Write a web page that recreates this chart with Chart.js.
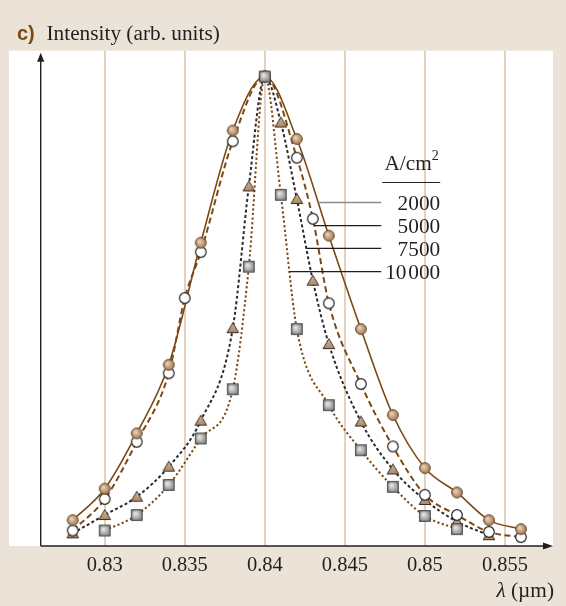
<!DOCTYPE html>
<html>
<head>
<meta charset="utf-8">
<script src="https://cdn.jsdelivr.net/npm/chart.js@4.4.1/dist/chart.umd.min.js"></script>
<style>
  html, body { margin: 0; padding: 0; background: #ECE3D8; }
  #wrap { width: 566px; height: 606px; }
</style>
</head>
<body>
<div id="wrap"><canvas id="chart" width="566" height="606"></canvas></div>
<script>
// Emission spectra at four current densities: wavelength (µm) and normalized intensity
const lambda2000  = [0.828, 0.830, 0.832, 0.834, 0.836, 0.838, 0.840, 0.842, 0.844, 0.846, 0.848, 0.850, 0.852, 0.854, 0.856];
const int2000     = [0.055, 0.122, 0.240, 0.386, 0.646, 0.885, 1.000, 0.867, 0.661, 0.462, 0.279, 0.166, 0.114, 0.055, 0.036];

const lambda5000  = [0.828, 0.830, 0.832, 0.834, 0.835, 0.836, 0.838, 0.840, 0.842, 0.843, 0.844, 0.846, 0.848, 0.850, 0.852, 0.854, 0.856];
const int5000     = [0.033, 0.100, 0.222, 0.368, 0.528, 0.626, 0.862, 1.000, 0.827, 0.697, 0.517, 0.345, 0.212, 0.109, 0.066, 0.030, 0.019];

const lambda7500  = [0.828, 0.830, 0.832, 0.834, 0.836, 0.838, 0.839, 0.840, 0.841, 0.842, 0.843, 0.844, 0.846, 0.848, 0.850, 0.852, 0.854];
const int7500     = [0.027, 0.066, 0.105, 0.169, 0.267, 0.464, 0.766, 1.000, 0.902, 0.739, 0.565, 0.430, 0.265, 0.163, 0.098, 0.052, 0.023];

const lambda10000 = [0.830, 0.832, 0.834, 0.836, 0.838, 0.839, 0.840, 0.841, 0.842, 0.844, 0.846, 0.848, 0.850, 0.852];
const int10000    = [0.033, 0.066, 0.130, 0.229, 0.334, 0.595, 1.000, 0.748, 0.462, 0.300, 0.204, 0.126, 0.064, 0.036];

const tickValues = [0.83, 0.835, 0.84, 0.845, 0.85, 0.855];
const tickLabels = ['0.83', '0.835', '0.84', '0.845', '0.85', '0.855'];
const densityLabels = ['2000', '5000', '7500', '10\u200A000'];

const SERIF = '"Liberation Serif", "Times New Roman", serif';
const INK = '#231F20';
const BROWN = '#7B4A14';

function pairs(xs, ys) { return xs.map((x, i) => ({ x: x, y: ys[i] })); }

// Marker sprites
function sprite(draw) {
  const c = document.createElement('canvas');
  c.width = 16; c.height = 16;
  draw(c.getContext('2d'));
  return c;
}
const dotFilled = sprite(ctx => {
  const g = ctx.createRadialGradient(6.5, 6.5, 0.5, 8, 8, 6);
  g.addColorStop(0, '#EBD3B6'); g.addColorStop(1, '#9A714B');
  ctx.beginPath(); ctx.arc(8, 8, 5.4, 0, Math.PI * 2);
  ctx.fillStyle = g; ctx.fill();
  ctx.lineWidth = 1; ctx.strokeStyle = '#6A4A2C'; ctx.stroke();
});
const dotOpen = sprite(ctx => {
  ctx.beginPath(); ctx.arc(8, 8, 5.3, 0, Math.PI * 2);
  ctx.fillStyle = '#FFFFFF'; ctx.fill();
  ctx.lineWidth = 1.2; ctx.strokeStyle = '#222'; ctx.stroke();
});
const triangle = sprite(ctx => {
  const g = ctx.createLinearGradient(0, 3, 0, 13);
  g.addColorStop(0, '#D6B896'); g.addColorStop(1, '#A9835E');
  ctx.beginPath(); ctx.moveTo(8, 2.5); ctx.lineTo(13.8, 12.5); ctx.lineTo(2.2, 12.5); ctx.closePath();
  ctx.fillStyle = g; ctx.fill();
  ctx.lineWidth = 1; ctx.strokeStyle = '#3A3028'; ctx.stroke();
});
const square = sprite(ctx => {
  const g = ctx.createRadialGradient(6.5, 6.5, 0.5, 8, 8, 7.5);
  g.addColorStop(0, '#E6E6E6'); g.addColorStop(1, '#707070');
  ctx.fillStyle = g; ctx.fillRect(2.7, 2.7, 10.6, 10.6);
  ctx.lineWidth = 1; ctx.strokeStyle = '#3C3C3C'; ctx.strokeRect(2.7, 2.7, 10.6, 10.6);
});

const series = [
  { pts: pairs(lambda2000, int2000),   color: BROWN,     width: 1.6, dash: [],         marker: dotFilled, z: 1 },
  { pts: pairs(lambda5000, int5000),   color: BROWN,     width: 2.0, dash: [6, 3.5],   marker: dotOpen,   z: 2 },
  { pts: pairs(lambda7500, int7500),   color: '#2B2B2B', width: 2.0, dash: [3, 2.4],   marker: triangle,  z: 3 },
  { pts: pairs(lambda10000, int10000), color: BROWN,     width: 2.0, dash: [2.2, 2.4], marker: square,    z: 0 }
];

const datasets = [];
series.forEach((s, i) => {
  datasets.push({
    data: s.pts, showLine: true, fill: false, pointRadius: 0, pointHoverRadius: 0,
    borderColor: s.color, borderWidth: s.width, borderDash: s.dash,
    cubicInterpolationMode: 'monotone', order: 10 + i, lineKey: i
  });
});
series.forEach(s => {
  datasets.push({
    data: s.pts, showLine: false, pointStyle: s.marker, pointRadius: 6, pointHoverRadius: 6,
    order: s.z
  });
});

// Panel background, axes with arrows, caption, axis title and the current-density key
const decor = {
  id: 'decor',
  beforeDraw(chart) {
    const { ctx, chartArea: a } = chart;
    ctx.save();
    ctx.fillStyle = '#ECE3D8';
    ctx.fillRect(0, 0, chart.width, chart.height);
    ctx.fillStyle = '#FFFFFF';
    ctx.fillRect(9, a.top, a.right - 9, a.bottom - a.top);
    ctx.restore();
  },
  beforeDatasetsDraw(chart) {
    const { ctx, chartArea: a } = chart;
    ctx.save();
    ctx.strokeStyle = INK; ctx.fillStyle = INK; ctx.lineWidth = 1.4;
    ctx.beginPath();
    ctx.moveTo(a.left, a.bottom); ctx.lineTo(a.left, a.top + 8);
    ctx.moveTo(a.left, a.bottom); ctx.lineTo(a.right - 8, a.bottom);
    ctx.stroke();
    ctx.beginPath();
    ctx.moveTo(a.left, a.top + 2); ctx.lineTo(a.left - 3.6, a.top + 11); ctx.lineTo(a.left + 3.6, a.top + 11); ctx.closePath();
    ctx.fill();
    ctx.beginPath();
    ctx.moveTo(a.right, a.bottom); ctx.lineTo(a.right - 10, a.bottom - 3.6); ctx.lineTo(a.right - 10, a.bottom + 3.6); ctx.closePath();
    ctx.fill();
    ctx.restore();
  },
  afterDraw(chart) {
    const { ctx, chartArea: a } = chart;
    ctx.save();
    // caption
    ctx.textBaseline = 'alphabetic';
    ctx.fillStyle = BROWN;
    ctx.font = 'bold 20px "Liberation Sans Narrow", "Liberation Sans", Arial, sans-serif';
    ctx.fillText('c)', 17, 40);
    ctx.fillStyle = INK;
    ctx.font = '21.3px ' + SERIF;
    ctx.fillText('Intensity (arb. units)', 46.5, 40);

    // wavelength axis title
    ctx.textAlign = 'right';
    ctx.font = '21.3px ' + SERIF;
    const unit = ' (\u00B5m)';
    const wUnit = ctx.measureText(unit).width;
    ctx.fillText(unit, a.right + 1, 596.5);
    ctx.font = 'italic 21.3px ' + SERIF;
    ctx.fillText('\u03BB', a.right + 1 - wUnit, 596.5);

    // key
    const keyRight = a.left + 399.5;
    ctx.font = '21.3px ' + SERIF;
    ctx.textAlign = 'left';
    const head = 'A/cm';
    const wHead = ctx.measureText(head).width;
    ctx.font = '14px ' + SERIF;
    const wSup = ctx.measureText('2').width;
    const headLeft = keyRight - 1.5 - wHead - wSup;
    ctx.font = '21.3px ' + SERIF;
    ctx.fillText(head, headLeft, 169.5);
    ctx.font = '14px ' + SERIF;
    ctx.fillText('2', headLeft + wHead, 160);
    ctx.strokeStyle = INK; ctx.lineWidth = 1.2;
    ctx.beginPath(); ctx.moveTo(keyRight - 58, 182.5); ctx.lineTo(keyRight, 182.5); ctx.stroke();

    ctx.textAlign = 'right';
    ctx.font = '21.3px ' + SERIF;
    const rowY = [202.5, 225.7, 248.3, 271.7];
    const xs = chart.scales.x;
    const peakPx = xs.getPixelForValue(0.840);
    chart.data.datasets.forEach((ds, di) => {
      if (ds.lineKey === undefined) return;
      const k = ds.lineKey;
      const y = rowY[k];
      ctx.fillStyle = INK;
      ctx.fillText(densityLabels[k], keyRight, y + 7.5);
      // find where the drawn curve crosses this row on the long-wavelength side
      const el = chart.getDatasetMeta(di).dataset;
      let lo = peakPx, hi = xs.getPixelForValue(ds.data[ds.data.length - 1].x) - 0.5;
      let hit = null;
      for (let it = 0; it < 40; it++) {
        const mid = (lo + hi) / 2;
        const p = el.interpolate({ x: mid }, 'x');
        if (!p) { hi = mid; continue; }
        hit = p;
        if (p.y < y) lo = mid; else hi = mid;
      }
      const x0 = hit ? hit.x : lo;
      ctx.strokeStyle = k === 0 ? '#8C8C8C' : '#1E1E1E';
      ctx.lineWidth = 1.3;
      ctx.beginPath(); ctx.moveTo(x0, y); ctx.lineTo(keyRight - 59, y); ctx.stroke();
    });
    ctx.restore();
  }
};

new Chart(document.getElementById('chart'), {
  type: 'scatter',
  data: { datasets: datasets },
  options: {
    responsive: false,
    animation: false,
    devicePixelRatio: 1,
    layout: { padding: { left: 40.7, right: 13, top: 50.7, bottom: 0 } },
    plugins: { legend: { display: false }, tooltip: { enabled: false } },
    events: [],
    scales: {
      x: {
        type: 'linear', min: 0.826, max: 0.858,
        afterBuildTicks: s => { s.ticks = tickValues.map(v => ({ value: v })); },
        afterFit: s => { s.height = 60; },
        grid: { color: '#E4D2BE', lineWidth: 2, drawTicks: false },
        border: { display: false },
        ticks: {
          autoSkip: false, maxRotation: 0, padding: 7, color: INK,
          font: { family: SERIF, size: 20.5 },
          callback: (v, i) => tickLabels[i]
        }
      },
      y: { type: 'linear', min: 0, max: 1.055, display: false }
    }
  },
  plugins: [decor]
});
</script>
</body>
</html>
